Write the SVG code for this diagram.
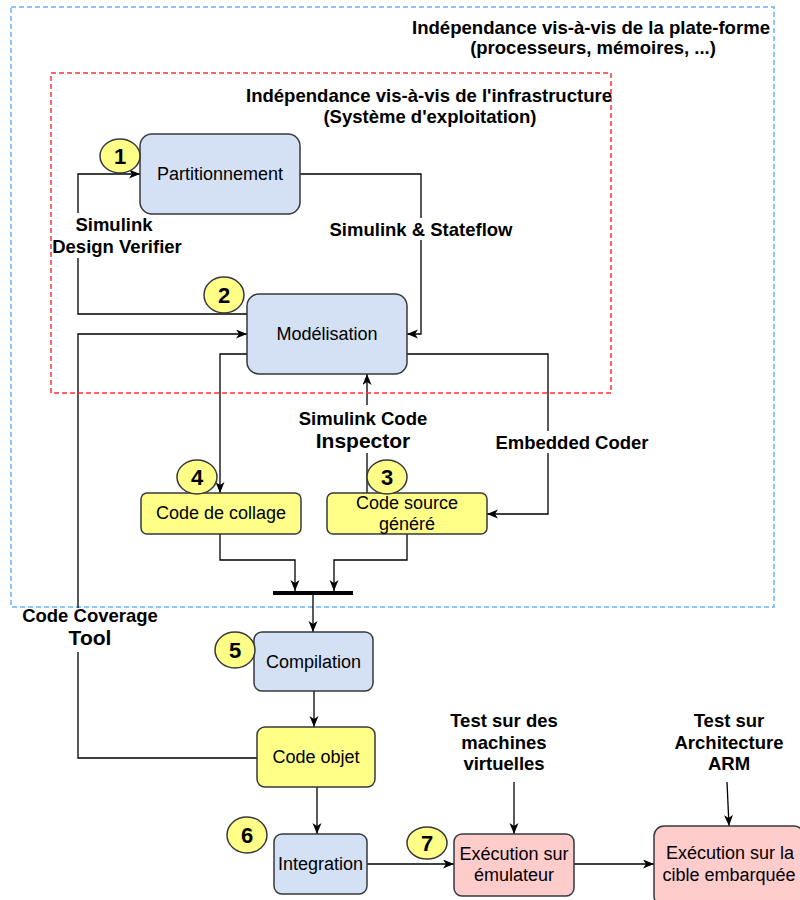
<svg xmlns="http://www.w3.org/2000/svg" width="800" height="900" viewBox="0 0 800 900">
<defs>
<style>
text{font-family:"Liberation Sans",Arial,sans-serif;fill:#000;dominant-baseline:central;text-anchor:middle}
.b{font-weight:bold;font-size:18.5px}
.bl{font-weight:bold;font-size:21px}
.n{font-size:18px}
.num{font-weight:bold;font-size:22px}
.blue{fill:#d4e1f5;stroke:#36393d;stroke-width:1.5}
.yel{fill:#ffff88;stroke:#36393d;stroke-width:1.5}
.pink{fill:#ffcccc;stroke:#36393d;stroke-width:1.5}
.badge{fill:#ffff88;stroke:#36393d;stroke-width:1.5}
.c{fill:none;stroke:#000;stroke-width:1.3;marker-end:url(#a)}
.bg{fill:#fff}
</style>
<marker id="a" markerUnits="userSpaceOnUse" markerWidth="12" markerHeight="10" refX="11" refY="4.5" orient="auto">
<path d="M0,0 L11,4.5 L0,9 L3,4.5 Z" fill="#000"/>
</marker>
</defs>
<rect width="800" height="900" fill="#fff"/>
<g id="platform-zone">
<rect x="11" y="7" width="763" height="600" fill="none" stroke="#66b2ff" stroke-width="1.5" stroke-dasharray="5 3"/>
<text class="b" x="591" y="27" textLength="358" lengthAdjust="spacingAndGlyphs">Indépendance vis-à-vis de la plate-forme</text>
<text class="b" x="593" y="47">(processeurs, mémoires, ...)</text>
</g>
<g id="connectors">
<path class="c" d="M300,174 H421 V334 H407"/>
<path class="c" d="M247,314 H78 V174 H140"/>
<path class="c" d="M247,354 H220 V493"/>
<path class="c" d="M367,493 V374"/>
<path class="c" d="M407,354 H548 V514 H487"/>
<path class="c" d="M220,534 V560 H295 V591"/>
<path class="c" d="M407,534 V560 H334 V591"/>
<path class="c" d="M313,595 V632"/>
<path class="c" d="M314,691 V727"/>
<path class="c" d="M257,758 H78 V334 H247"/>
<path class="c" d="M317,787 V834"/>
<path class="c" d="M367,864 H454"/>
<path class="c" d="M574,864 H654"/>
<path class="c" d="M514,782 V834"/>
<path class="c" d="M727,782 L729,826"/>
<rect x="273" y="591" width="80" height="4" fill="#000"/>
<rect class="bg" x="326" y="218" width="190" height="22"/>
<text class="b" x="421" y="229">Simulink &amp; Stateflow</text>
<rect class="bg" x="55" y="213" width="130" height="45"/>
<text class="b" x="114" y="224">Simulink</text>
<text class="b" x="117" y="246">Design Verifier</text>
<rect class="bg" x="296" y="405" width="135" height="48"/>
<text class="b" x="363" y="418">Simulink Code</text>
<text class="bl" x="363" y="440">Inspector</text>
<rect class="bg" x="493" y="431" width="158" height="22"/>
<text class="b" x="572" y="442">Embedded Coder</text>
<rect class="bg" x="18" y="608" width="144" height="44"/>
<text class="b" x="90" y="615">Code Coverage</text>
<text class="bl" x="90" y="637">Tool</text>
</g>
<g id="infra-zone">
<rect x="51" y="73" width="560" height="320" fill="none" stroke="#ff3333" stroke-width="1.5" stroke-dasharray="5 3"/>
<text class="b" x="429" y="95" textLength="366" lengthAdjust="spacingAndGlyphs">Indépendance vis-à-vis de l'infrastructure</text>
<text class="b" x="430" y="116">(Système d'exploitation)</text>
</g>
<g id="partitionnement">
<rect class="blue" x="140" y="134" width="160" height="80" rx="12"/>
<text class="n" x="220" y="174">Partitionnement</text>
</g>
<g id="badge1"><ellipse class="badge" cx="120" cy="156" rx="20" ry="17"/><text class="num" x="120" y="156">1</text></g>
<g id="modelisation">
<rect class="blue" x="247" y="294" width="160" height="80" rx="12"/>
<text class="n" x="327" y="334">Modélisation</text>
</g>
<g id="badge2"><ellipse class="badge" cx="224" cy="295" rx="20" ry="18"/><text class="num" x="224" y="295">2</text></g>
<g id="code-collage">
<rect class="yel" x="141" y="493" width="160" height="41" rx="6"/>
<text class="n" x="221" y="513">Code de collage</text>
</g>
<g id="badge4"><ellipse class="badge" cx="197" cy="477" rx="20" ry="17"/><text class="num" x="197" y="477">4</text></g>
<g id="code-source">
<rect class="yel" x="327" y="493" width="160" height="41" rx="6"/>
<text class="n" x="407" y="503">Code source</text>
<text class="n" x="407" y="524">généré</text>
</g>
<g id="badge3"><ellipse class="badge" cx="387" cy="477" rx="20" ry="17"/><text class="num" x="387" y="477">3</text></g>
<g id="compilation">
<rect class="blue" x="254" y="632" width="119" height="59" rx="8"/>
<text class="n" x="313.5" y="662">Compilation</text>
</g>
<g id="badge5"><ellipse class="badge" cx="235" cy="650" rx="20" ry="18"/><text class="num" x="235" y="650">5</text></g>
<g id="code-objet">
<rect class="yel" x="257" y="727" width="118" height="60" rx="8"/>
<text class="n" x="316" y="757">Code objet</text>
</g>
<g id="integration">
<rect class="blue" x="274" y="834" width="93" height="60" rx="8"/>
<text class="n" x="320.5" y="864">Integration</text>
</g>
<g id="badge6"><ellipse class="badge" cx="247" cy="835" rx="20" ry="18"/><text class="num" x="247" y="835">6</text></g>
<g id="emulateur">
<rect class="pink" x="454" y="834" width="120" height="62" rx="8"/>
<text class="n" x="514" y="854">Exécution sur</text>
<text class="n" x="514" y="875">émulateur</text>
</g>
<g id="badge7"><ellipse class="badge" cx="427" cy="843" rx="20" ry="16"/><text class="num" x="427" y="843">7</text></g>
<g id="cible">
<rect class="pink" x="654" y="826" width="150" height="80" rx="10"/>
<text class="n" x="730" y="853">Exécution sur la</text>
<text class="n" x="729" y="875">cible embarquée</text>
</g>
<g id="test-vm">
<text class="b" x="504" y="720">Test sur des</text>
<text class="b" x="504" y="742">machines</text>
<text class="b" x="504" y="763">virtuelles</text>
</g>
<g id="test-arm">
<text class="b" x="729" y="720">Test sur</text>
<text class="b" x="729" y="742">Architecture</text>
<text class="b" x="729" y="763">ARM</text>
</g>
</svg>
